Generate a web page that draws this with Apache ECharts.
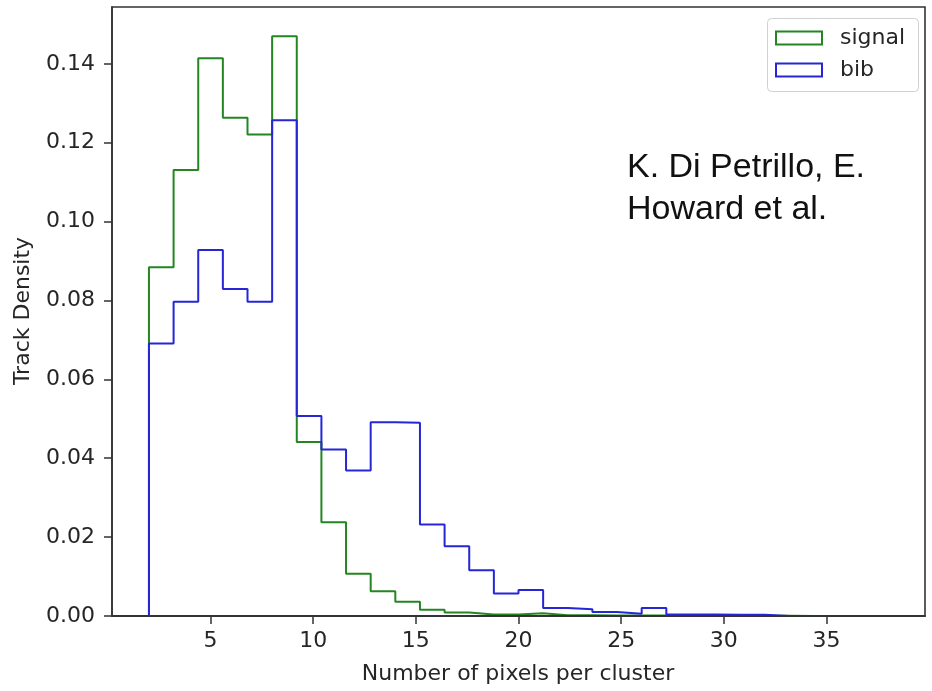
<!DOCTYPE html>
<html>
<head>
<meta charset="utf-8">
<script src="https://cdn.jsdelivr.net/npm/echarts@6/dist/echarts.min.js"></script>
<style>
html,body{margin:0;padding:0;background:#fff;}
#chart{width:932px;height:691px;}
</style>
</head>
<body>
<div id="chart"></div>
<script>
// Bin edges of the histogram (30 bins from 2 to 38)
const binEdges = [2.0,3.2,4.4,5.6,6.8,8.0,9.2,10.4,11.6,12.8,14.0,15.2,16.4,17.6,18.8,20.0,21.2,22.4,23.6,24.8,26.0,27.2,28.4,29.6,30.8,32.0,33.2,34.4,35.6,36.8,38.0];
// Track density per bin
const signalDensity = [0.0884,0.1131,0.1414,0.1263,0.1221,0.1470,0.0441,0.0238,0.0107,0.0063,0.0036,0.0016,0.0009,0.0004,0.0004,0.0007,0.0002,0.0002,0.0001,0.0001,0.0001,0.0001,0.0001,0.00005,0.00005,0.00005,0.00003,0.00003,0.00003,0.00003];
const bibDensity = [0.0691,0.0797,0.0928,0.0829,0.0797,0.1257,0.0507,0.0422,0.0369,0.0491,0.0490,0.0232,0.0177,0.0116,0.0057,0.0066,0.0020,0.0017,0.0010,0.0006,0.0020,0.0004,0.0004,0.0003,0.0003,0,0,0,0,0];
const xTicks = [5,10,15,20,25,30,35];
const yTicks = [0,0.02,0.04,0.06,0.08,0.10,0.12,0.14];
const seriesNames = ['signal','bib'];
const xTitle = 'Number of pixels per cluster';
const yTitle = 'Track Density';
const noteText = 'K. Di Petrillo, E.\nHoward et al.';

function stepOutline(edges, vals){
  const pts = [[edges[0], 0]];
  vals.forEach((v, i) => { pts.push([edges[i], v]); pts.push([edges[i+1], v]); });
  pts.push([edges[edges.length-1], 0]);
  return pts;
}

const GREEN = '#238623';
const BLUE = '#2626d8';
const FONT = 'DejaVu Sans';
const TXT = '#262626';

const chart = echarts.init(document.getElementById('chart'));
chart.setOption({
  animation: false,
  backgroundColor: '#fff',
  grid: { left: 112, top: 7, width: 813, height: 609, show: true, borderColor: '#333', borderWidth: 1.6, backgroundColor: 'transparent', z: 10 },
  xAxis: {
    type: 'value', min: 0.2, max: 39.8, z: 10,
    axisLine: { show: true, onZero: false, lineStyle: { color: '#333', width: 1.8 } },
    axisTick: { show: true, inside: false, length: 8, customValues: xTicks, lineStyle: { color: '#333', width: 1.5 } },
    axisLabel: { customValues: xTicks, margin: 14, fontSize: 22, fontFamily: FONT, color: TXT },
    splitLine: { show: false }
  },
  yAxis: {
    type: 'value', min: 0, max: 0.1544, z: 10,
    axisLine: { show: true, lineStyle: { color: '#333', width: 1.6 } },
    axisTick: { show: true, inside: false, length: 8, customValues: yTicks, lineStyle: { color: '#333', width: 1.5 } },
    axisLabel: { customValues: yTicks, margin: 17, fontSize: 22, fontFamily: FONT, color: TXT, formatter: v => v.toFixed(2) },
    splitLine: { show: false }
  },
  legend: {
    orient: 'vertical', left: 775, top: 27, padding: 0, z: 12,
    itemWidth: 46, itemHeight: 13, itemGap: 10,
    textStyle: { fontSize: 22, fontFamily: FONT, color: TXT, lineHeight: 22, padding: [0, 0, 0, 13] },
    data: [
      { name: seriesNames[0], icon: 'emptyRect' },
      { name: seriesNames[1], icon: 'emptyRect' }
    ]
  },
  graphic: [
    { type: 'rect', left: 767, top: 18, z: 11, shape: { width: 151, height: 73, r: 4 }, style: { fill: 'rgba(255,255,255,0.8)', stroke: '#d0d0d0', lineWidth: 1 } },
    { type: 'text', x: 518, y: 674, style: { text: xTitle, font: '22px "DejaVu Sans"', fill: TXT, align: 'center', verticalAlign: 'middle' } },
    { type: 'text', x: 23, y: 311, rotation: Math.PI/2, style: { text: yTitle, font: '22px "DejaVu Sans"', fill: TXT, align: 'center', verticalAlign: 'middle' } },
    { type: 'text', x: 627, y: 147, style: { text: noteText, font: '34px "Liberation Sans"', fill: '#111', align: 'left', verticalAlign: 'top', lineHeight: 42 } }
  ],
  series: [
    { name: seriesNames[0], type: 'line', data: stepOutline(binEdges, signalDensity), showSymbol: false, symbol: 'none',
      lineStyle: { color: GREEN, width: 2 }, itemStyle: { color: GREEN }, z: 2 },
    { name: seriesNames[1], type: 'line', data: stepOutline(binEdges, bibDensity), showSymbol: false, symbol: 'none',
      lineStyle: { color: BLUE, width: 2 }, itemStyle: { color: BLUE }, z: 3 }
  ]
});
</script>
</body>
</html>
